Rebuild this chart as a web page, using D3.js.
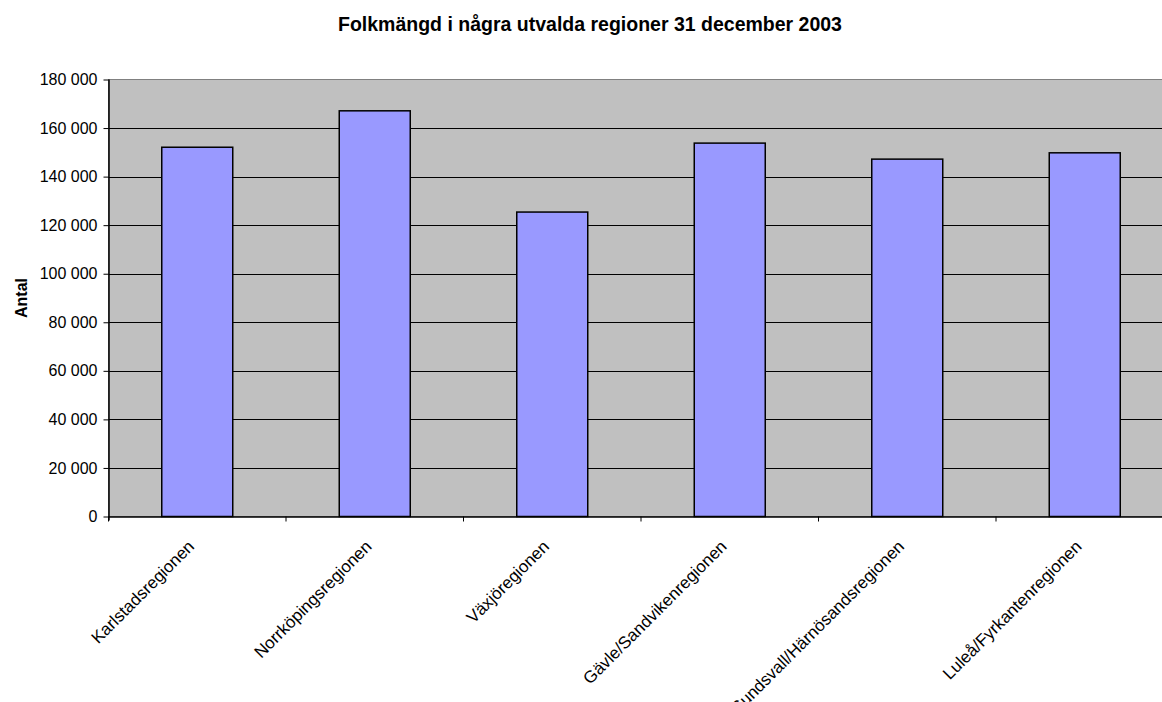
<!DOCTYPE html>
<html><head><meta charset="utf-8">
<script src="https://cdn.jsdelivr.net/npm/d3@7"></script>
<style>
body{margin:0;background:#fff;}
svg{display:block;font-family:"Liberation Sans",Arial,sans-serif;}
</style></head>
<body><svg id="c" width="1162" height="702"></svg>
<script>
const categories = ["Karlstadsregionen","Norrköpingsregionen","Växjöregionen","Gävle/Sandvikenregionen","Sundsvall/Härnösandsregionen","Luleå/Fyrkantenregionen"];
const values = [152100, 167100, 125400, 153800, 147200, 149800];
const yTicks = [0,20000,40000,60000,80000,100000,120000,140000,160000,180000];
const title = "Folkmängd i några utvalda regioner 31 december 2003";
const yTitle = "Antal";

const svg = d3.select("#c");
const L = 108.5, T = 79.5, R = 1173.5, B = 516.5;
const x = d3.scaleBand().domain(categories).range([L, R]).paddingInner(0.6).paddingOuter(0.3);
const y = d3.scaleLinear().domain([0,180000]).range([B, T]);
const fmt = v => d3.format(",")(v).replace(/,/g, " ");

svg.append("rect").attr("x", L).attr("y", T).attr("width", R-L).attr("height", B-T)
  .attr("fill", "#c0c0c0").attr("stroke", "#808080").attr("stroke-width", 1);

// gridlines
svg.append("g").selectAll("line").data(yTicks.filter(v=>v>0 && v<180000)).join("line")
  .attr("x1", L).attr("x2", R).attr("y1", d=>Math.round(y(d))+0.5).attr("y2", d=>Math.round(y(d))+0.5)
  .attr("stroke", "#000").attr("stroke-width", 1);

// bars
svg.append("g").selectAll("rect").data(categories).join("rect")
  .attr("x", d=>x(d)).attr("y", (d,i)=>y(values[i])).attr("width", x.bandwidth())
  .attr("height", (d,i)=>B - y(values[i]))
  .attr("fill", "#9999ff").attr("stroke", "#000").attr("stroke-width", 1.5);

// y axis
const ya = svg.append("g").attr("transform", `translate(${L},0)`)
  .call(d3.axisLeft(y).tickValues(yTicks).tickFormat(fmt).tickSize(5).tickPadding(6));
ya.select(".domain").attr("stroke", "#000").attr("stroke-width", 1.5).attr("d", `M0.5,${T}V${B+4}`);
ya.selectAll(".tick line").attr("stroke", "#000");
ya.selectAll("text").attr("font-size", 16).attr("fill", "#000").attr("font-family", "Liberation Sans, Arial, sans-serif");

// x axis
const xb = d3.scaleLinear().domain([0, categories.length]).range([L, R]);
const xa = svg.append("g").attr("transform", `translate(0,${B})`);
xa.append("line").attr("x1", L).attr("x2", R).attr("y1", 0.5).attr("y2", 0.5).attr("stroke", "#000").attr("stroke-width", 1.5);
xa.selectAll("line.t").data(d3.range(0, categories.length+1)).join("line").attr("class","t")
  .attr("x1", d=>xb(d)).attr("x2", d=>xb(d)).attr("y1", 0).attr("y2", 5).attr("stroke", "#000");
xa.selectAll("text").data(categories).join("text")
  .attr("transform", d=>`translate(${x(d)+x.bandwidth()/2-2},31) rotate(-45)`)
  .attr("text-anchor", "end").attr("font-size", 17).attr("fill", "#000").text(d=>d);

// titles
svg.append("text").attr("x", 590).attr("y", 31).attr("text-anchor", "middle")
  .attr("font-size", 19.5).attr("font-weight", "bold").text(title);
svg.append("text").attr("transform", `translate(27,${(T+B)/2}) rotate(-90)`).attr("text-anchor", "middle")
  .attr("font-size", 16).attr("font-weight", "bold").text(yTitle);
</script></body></html>
